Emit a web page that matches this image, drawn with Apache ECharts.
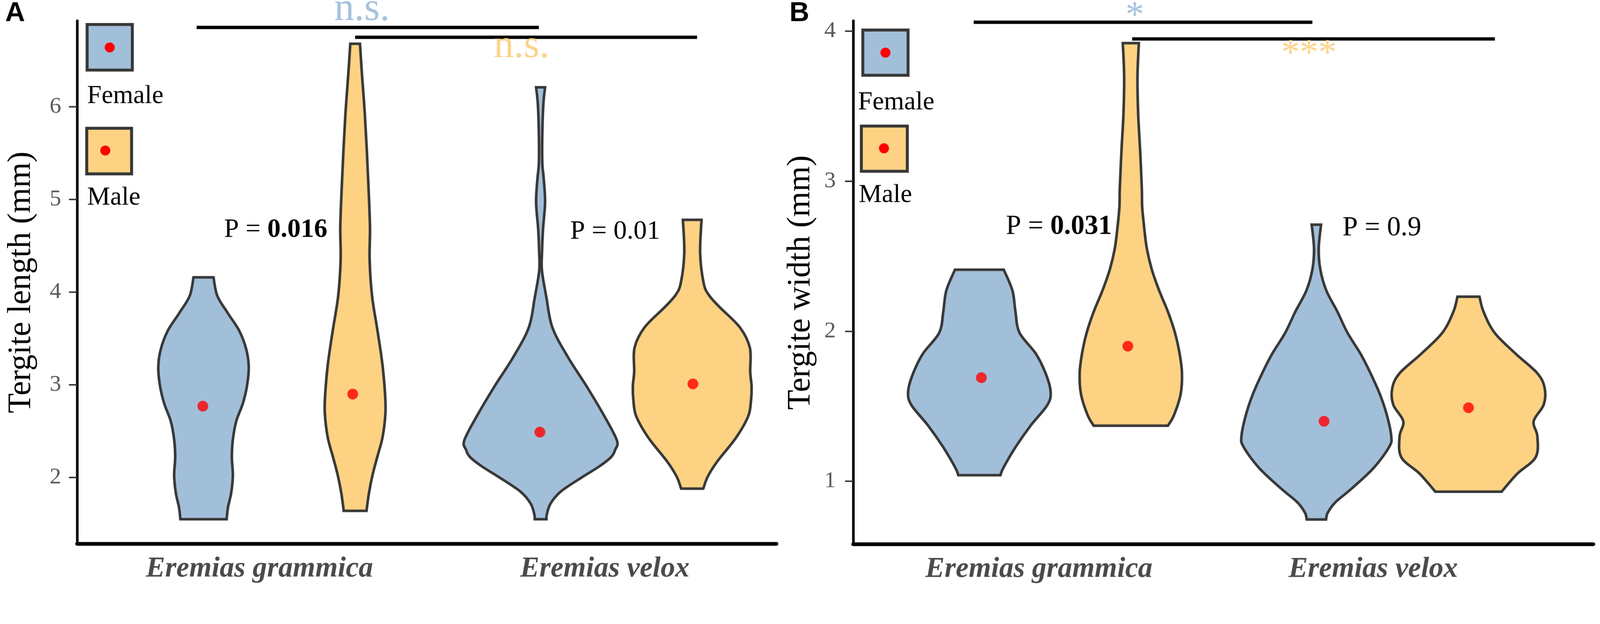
<!DOCTYPE html>
<html>
<head>
<meta charset="utf-8">
<title>Tergite violins</title>
<script src="https://cdn.jsdelivr.net/npm/echarts@6/dist/echarts.min.js"></script>
<style>
  html, body { margin: 0; padding: 0; background: #fff; overflow: hidden; }
  #main { width: 4317px; height: 1597px; transform-origin: 0 0; }
</style>
</head>
<body>
<div id="main"></div>
<script>
// 物种与性别
var speciesLabels = ['Eremias grammica', 'Eremias velox'];
var sexLabels = ['Female', 'Male'];

// ---- A: 背板长度 (Tergite length) ----
// 小提琴中心 (x 轴单位) 与均值点
var lengthViolinX = [0.838, 1.277, 1.814, 2.253];
var lengthMeanX = [0.836, 1.270, 1.812, 2.255];
var lengthMeans = [2.77, 2.90, 2.49, 3.01];
// 轮廓: [y, 半宽]
var lengthFemaleGrammica = [[4.16, 0.029], [3.96, 0.040], [3.77, 0.071], [3.58, 0.104], [3.38, 0.124], [3.19, 0.131], [2.99, 0.126], [2.80, 0.114], [2.61, 0.095], [2.41, 0.085], [2.22, 0.082], [2.02, 0.085], [1.83, 0.080], [1.68, 0.071], [1.55, 0.067]];
var lengthMaleGrammica = [[6.68, 0.014], [6.34, 0.020], [5.93, 0.028], [5.52, 0.034], [5.11, 0.039], [4.70, 0.043], [4.35, 0.042], [3.96, 0.049], [3.58, 0.065], [3.19, 0.080], [2.80, 0.088], [2.61, 0.086], [2.41, 0.078], [2.22, 0.064], [2.02, 0.050], [1.83, 0.040], [1.64, 0.033]];
var lengthFemaleVelox = [[6.21, 0.013], [6.03, 0.008], [5.71, 0.005], [5.39, 0.005], [5.23, 0.009], [4.97, 0.013], [4.68, 0.007], [4.42, 0.004], [4.23, 0.004], [3.94, 0.017], [3.62, 0.034], [3.30, 0.079], [2.98, 0.134], [2.66, 0.185], [2.40, 0.221], [2.30, 0.216], [2.22, 0.204], [2.12, 0.170], [2.01, 0.123], [1.85, 0.059], [1.72, 0.029], [1.60, 0.018], [1.55, 0.017]];
var lengthMaleVelox = [[4.78, 0.027], [4.42, 0.023], [4.10, 0.033], [3.97, 0.048], [3.84, 0.079], [3.62, 0.138], [3.40, 0.167], [3.14, 0.168], [2.98, 0.172], [2.82, 0.170], [2.66, 0.162], [2.43, 0.127], [2.17, 0.072], [2.01, 0.045], [1.88, 0.032]];
var lengthTicks = [2, 3, 4, 5, 6];
var lengthBrackets = [[0.818, 1.809, 6.856], [1.277, 2.267, 6.75]];
var lengthNotes = ['n.s.', 'n.s.', 'P = {b|0.016}', 'P = 0.01'];
var lengthNoteX = [1.297, 1.759, 1.047, 2.030];
var lengthNoteY = [7.05, 6.65, 4.67, 4.65];

// ---- B: 背板宽度 (Tergite width) ----
var widthViolinX = [0.822, 1.275, 1.830, 2.285];
var widthMeanX = [0.828, 1.266, 1.853, 2.285];
var widthMeans = [1.69, 1.90, 1.40, 1.49];
var widthFemaleGrammica = [[2.41, 0.073], [2.27, 0.099], [2.13, 0.108], [1.99, 0.120], [1.85, 0.169], [1.72, 0.198], [1.60, 0.213], [1.51, 0.204], [1.37, 0.153], [1.23, 0.109], [1.09, 0.072], [1.04, 0.063]];
var widthMaleGrammica = [[3.92, 0.024], [3.70, 0.020], [3.45, 0.022], [3.20, 0.028], [2.95, 0.033], [2.83, 0.034], [2.69, 0.040], [2.55, 0.048], [2.41, 0.063], [2.27, 0.085], [2.13, 0.111], [1.99, 0.132], [1.85, 0.146], [1.72, 0.153], [1.58, 0.149], [1.44, 0.129], [1.37, 0.111]];
var widthFemaleVelox = [[2.71, 0.014], [2.55, 0.007], [2.41, 0.012], [2.27, 0.030], [2.13, 0.063], [1.99, 0.093], [1.85, 0.132], [1.72, 0.162], [1.58, 0.190], [1.44, 0.211], [1.30, 0.224], [1.23, 0.218], [1.09, 0.172], [0.95, 0.105], [0.86, 0.057], [0.79, 0.034], [0.745, 0.029]];
var widthMaleVelox = [[2.23, 0.033], [2.13, 0.045], [1.99, 0.078], [1.85, 0.141], [1.72, 0.206], [1.62, 0.228], [1.51, 0.225], [1.40, 0.195], [1.30, 0.206], [1.16, 0.201], [1.05, 0.146], [0.93, 0.099]];
var widthTicks = [1, 2, 3, 4];
var widthBrackets = [[0.805, 1.818, 4.059], [1.279, 2.364, 3.948]];
var widthNotes = ['*', '***', 'P = {b|0.031}', 'P = 0.9'];
var widthNoteX = [1.287, 1.808, 1.060, 2.026];
var widthNoteY = [4.096, 3.844, 2.695, 2.686];

var SERIF = "'Liberation Serif', 'Times New Roman', serif";
var BLUE = '#a2bfda';
var ORANGE = '#fdd283';
var EDGE = '#383838';
var NOTE_BLUE = '#a6c2df';
var NOTE_ORANGE = '#fcd38b';

// 窗口比设计尺寸小时整体缩放
var box = document.getElementById('main');
var k = Math.min(window.innerWidth / 4317, window.innerHeight / 1597);
if (k < 0.999) box.style.transform = 'scale(' + k + ')';

var chart = echarts.init(box);

// Catmull-Rom 转 三次贝塞尔
function curveThrough(pts) {
  var s = '';
  for (var i = 0; i < pts.length - 1; i++) {
    var p0 = pts[i - 1] || pts[i], p1 = pts[i], p2 = pts[i + 1], p3 = pts[i + 2] || pts[i + 1];
    var c1 = [p1[0] + (p2[0] - p0[0]) / 6, p1[1] + (p2[1] - p0[1]) / 6];
    var c2 = [p2[0] - (p3[0] - p1[0]) / 6, p2[1] - (p3[1] - p1[1]) / 6];
    s += ' C' + c1 + ' ' + c2 + ' ' + p2;
  }
  return s;
}

function violinSeries(idx, xs, profiles) {
  return {
    type: 'custom',
    xAxisIndex: idx,
    yAxisIndex: idx,
    clip: false,
    z: 2,
    data: xs.map(function (x, i) {
      return [x, profiles[i][0][0], profiles[i][profiles[i].length - 1][0]];
    }),
    encode: { x: 0, y: [1, 2] },
    renderItem: function (params, api) {
      var x0 = api.value(0);
      var prof = profiles[params.dataIndex];
      var right = prof.map(function (p) { return api.coord([x0 + p[1], p[0]]); });
      var left = prof.map(function (p) { return api.coord([x0 - p[1], p[0]]); }).reverse();
      var d = 'M' + right[0] + curveThrough(right) + ' L' + left[0] + curveThrough(left) + ' Z';
      return {
        type: 'path',
        shape: { pathData: d },
        style: { fill: params.dataIndex % 2 ? ORANGE : BLUE, stroke: EDGE, lineWidth: 7 }
      };
    }
  };
}

function meanSeries(idx, xs, ys) {
  return {
    type: 'scatter',
    xAxisIndex: idx,
    yAxisIndex: idx,
    z: 5,
    symbolSize: 29,
    itemStyle: { color: '#ff0000' },
    data: xs.map(function (x, i) { return [x, ys[i]]; })
  };
}

function bracketSeries(idx, brackets) {
  return {
    type: 'custom',
    xAxisIndex: idx,
    yAxisIndex: idx,
    clip: false,
    data: brackets,
    encode: { x: [0, 1], y: 2 },
    renderItem: function (params, api) {
      var a = api.coord([api.value(0), api.value(2)]);
      var b = api.coord([api.value(1), api.value(2)]);
      return {
        type: 'line',
        shape: { x1: a[0], y1: a[1], x2: b[0], y2: b[1] },
        style: { stroke: '#000', lineWidth: 9 }
      };
    }
  };
}

function noteSeries(idx, texts, xs, ys, looks) {
  return {
    type: 'custom',
    xAxisIndex: idx,
    yAxisIndex: idx,
    clip: false,
    z: 6,
    data: xs.map(function (x, i) { return [x, ys[i]]; }),
    renderItem: function (params, api) {
      var p = api.coord([api.value(0), api.value(1)]);
      var look = looks[params.dataIndex];
      return {
        type: 'text',
        x: p[0],
        y: p[1],
        style: {
          text: texts[params.dataIndex],
          fill: look[0],
          fontSize: look[1],
          fontFamily: SERIF,
          align: 'center',
          verticalAlign: 'middle',
          rich: { b: { fontWeight: 'bold', fontSize: look[1], fontFamily: SERIF, fill: look[0] } }
        }
      };
    }
  };
}

function xAxisFor(idx, min, max) {
  return {
    type: 'value',
    gridIndex: idx,
    min: min,
    max: max,
    axisLine: { show: true, onZero: false, lineStyle: { color: '#000', width: 10 } },
    axisTick: { show: false },
    splitLine: { show: false },
    axisLabel: {
      customValues: [1, 2],
      formatter: function (v) { return speciesLabels[Math.round(v) - 1]; },
      fontFamily: SERIF,
      fontStyle: 'italic',
      fontWeight: 'bold',
      fontSize: 78,
      color: '#4a4a4a',
      margin: 29
    }
  };
}

function yAxisFor(idx, min, max, ticks, name, gap, labelMargin) {
  return {
    type: 'value',
    gridIndex: idx,
    min: min,
    max: max,
    name: name,
    nameLocation: 'middle',
    nameGap: gap,
    nameTextStyle: { fontFamily: SERIF, fontSize: 88, color: '#000' },
    axisLine: { show: true, onZero: false, lineStyle: { color: '#000', width: 7 } },
    axisTick: { show: true, customValues: ticks, length: 22, lineStyle: { color: '#333', width: 4 } },
    splitLine: { show: false },
    axisLabel: { customValues: ticks, fontFamily: SERIF, fontSize: 62, color: '#595959', margin: labelMargin }
  };
}

function legendBlock(boxes, dots, labelPos) {
  var els = [];
  [BLUE, ORANGE].forEach(function (c, i) {
    els.push({ type: 'rect', shape: { x: boxes[i][0], y: boxes[i][1], width: boxes[i][2], height: boxes[i][3] },
      style: { fill: c, stroke: EDGE, lineWidth: 8 } });
    els.push({ type: 'circle', shape: { cx: dots[i][0], cy: dots[i][1], r: 13.5 }, style: { fill: '#ff0000' } });
    els.push({ type: 'text', x: labelPos[i][0], y: labelPos[i][1],
      style: { text: sexLabels[i], fontFamily: SERIF, fontSize: 70, fill: '#000', align: 'left', verticalAlign: 'middle' } });
  });
  return els;
}

var lookA = [[NOTE_BLUE, 108], [NOTE_ORANGE, 108], ['#000', 72], ['#000', 72]];
var lookB = [[NOTE_BLUE, 100], [NOTE_ORANGE, 100], ['#000', 74], ['#000', 74]];

var option = {
  animation: false,
  backgroundColor: '#fff',
  grid: [
    { left: 208, top: 56, width: 1887, height: 1411, outerBoundsMode: 'none' },
    { left: 2302, top: 56, width: 1997, height: 1412, outerBoundsMode: 'none' }
  ],
  xAxis: [xAxisFor(0, 0.472, 2.497), xAxisFor(1, 0.4446, 2.6585)],
  yAxis: [
    yAxisFor(0, 1.284, 6.928, lengthTicks, 'Tergite length (mm)', 106, 43),
    yAxisFor(1, 0.580, 4.069, widthTicks, 'Tergite width (mm)', 97, 47)
  ],
  graphic: [
    { type: 'text', x: 14, y: 0, style: { text: 'A', fontFamily: "'Liberation Sans', Arial, sans-serif", fontWeight: 'bold', fontSize: 74, fill: '#000', verticalAlign: 'top' } },
    { type: 'text', x: 2130, y: 0, style: { text: 'B', fontFamily: "'Liberation Sans', Arial, sans-serif", fontWeight: 'bold', fontSize: 74, fill: '#000', verticalAlign: 'top' } }
  ].concat(
    legendBlock([[235, 66, 122, 123], [234, 346, 121, 123]], [[296, 128], [284, 406]], [[235, 260], [235, 534]]),
    legendBlock([[2328, 81, 122, 122], [2324, 340, 124, 122]], [[2389, 142], [2385, 400]], [[2315, 277], [2317, 527]])
  ),
  series: [
    violinSeries(0, lengthViolinX, [lengthFemaleGrammica, lengthMaleGrammica, lengthFemaleVelox, lengthMaleVelox]),
    meanSeries(0, lengthMeanX, lengthMeans),
    bracketSeries(0, lengthBrackets),
    noteSeries(0, lengthNotes, lengthNoteX, lengthNoteY, lookA),
    violinSeries(1, widthViolinX, [widthFemaleGrammica, widthMaleGrammica, widthFemaleVelox, widthMaleVelox]),
    meanSeries(1, widthMeanX, widthMeans),
    bracketSeries(1, widthBrackets),
    noteSeries(1, widthNotes, widthNoteX, widthNoteY, lookB)
  ]
};

chart.setOption(option);
</script>
</body>
</html>
